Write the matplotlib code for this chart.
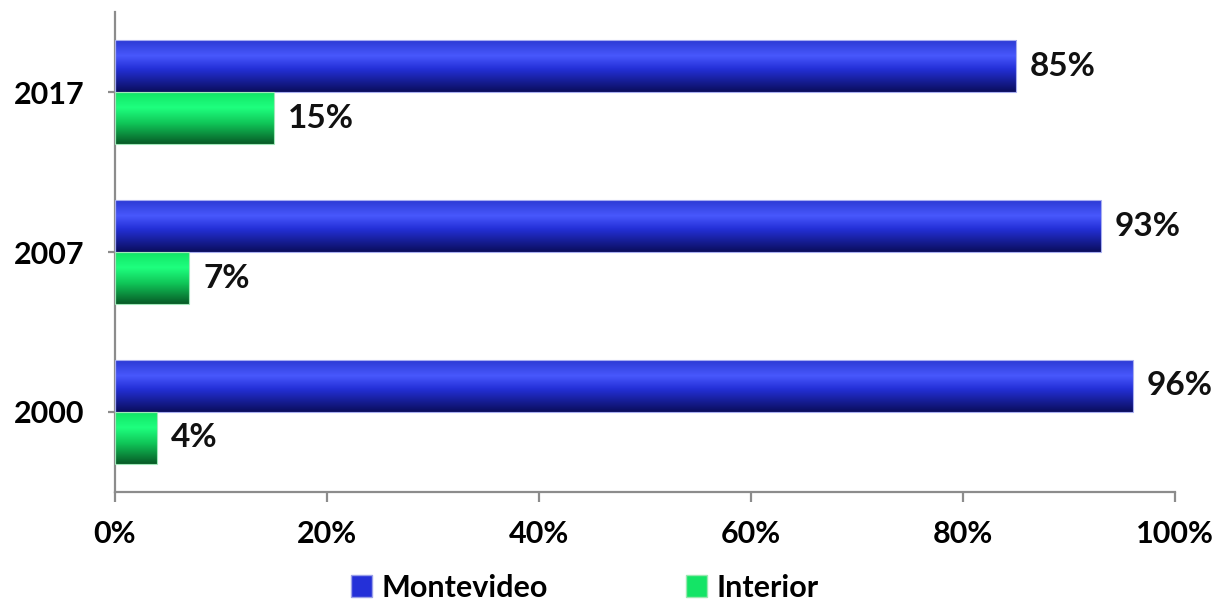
import numpy as np
import matplotlib.pyplot as plt
from matplotlib.colors import LinearSegmentedColormap
from matplotlib.patches import Patch

years = ['2000', '2007', '2017']
montevideo = [96, 93, 85]
interior = [4, 7, 15]
xticks = [0, 20, 40, 60, 80, 100]

plt.rcParams['font.family'] = ['Lato', 'DejaVu Sans']
plt.rcParams['font.weight'] = 'bold'

fig = plt.figure(figsize=(12.18, 6.11), dpi=100)
ax = fig.add_axes([0.0944, 0.195, 0.8703, 0.785])

# excel-like shaded bars
blue_cmap = LinearSegmentedColormap.from_list('blue', [(0, '#2c3ad4'), (0.3, '#4858fc'),
                                                       (0.55, '#2430d8'), (1, '#0a0d5c')])
green_cmap = LinearSegmentedColormap.from_list('green', [(0, '#12e466'), (0.3, '#1eff7e'),
                                                         (0.6, '#10c658'), (1, '#075a26')])

y = np.arange(len(years))
h = 0.325
bars_m = ax.barh(y + h / 2, montevideo, h, facecolor='none', edgecolor='#a8aef0', linewidth=0.8, zorder=3)
bars_i = ax.barh(y - h / 2, interior, h, facecolor='none', edgecolor='#a0e8b8', linewidth=0.8, zorder=3)

grad = np.linspace(0, 1, 256).reshape(-1, 1)
for bars, cmap in [(bars_m, blue_cmap), (bars_i, green_cmap)]:
    for b in bars:
        x0, y0, w, hh = b.get_x(), b.get_y(), b.get_width(), b.get_height()
        im = ax.imshow(grad, cmap=cmap, extent=(x0, x0 + w, y0, y0 + hh), origin='upper',
                       aspect='auto', zorder=2, interpolation='bilinear')
        im.set_clip_path(b)
        ax.annotate(f'{w:.0f}%', (x0 + w, y0 + hh / 2), xytext=(10, 0), textcoords='offset points',
                    va='center', ha='left', fontsize=24, fontweight='bold', color='#111111')

ax.set_xlim(0, 100)
ax.set_ylim(-0.5, 2.5)
ax.set_xticks(xticks)
ax.set_xticklabels([f'{t}%' for t in xticks])
ax.set_yticks(y)
ax.set_yticklabels(years)

for s in ['top', 'right']:
    ax.spines[s].set_visible(False)
for s in ['left', 'bottom']:
    ax.spines[s].set_color('#8c8c8c')
    ax.spines[s].set_linewidth(1.6)
ax.tick_params(axis='x', direction='out', length=7, width=1.6, color='#8c8c8c', pad=13, labelsize=22)
ax.tick_params(axis='y', direction='out', length=5, width=1.6, color='#8c8c8c', pad=17, labelsize=22)

handles = [Patch(facecolor='#2430d8', edgecolor='#9aa0e8', label='Montevideo'),
           Patch(facecolor='#14e466', edgecolor='#9ae8b0', label='Interior')]
fig.legend(handles=handles, loc='lower center', bbox_to_anchor=(0.48, -0.03), ncol=2, frameon=False,
           fontsize=22, handlelength=0.7, handleheight=0.7, handletextpad=0.3, columnspacing=4.5)

fig.savefig('out.png', dpi=100)
